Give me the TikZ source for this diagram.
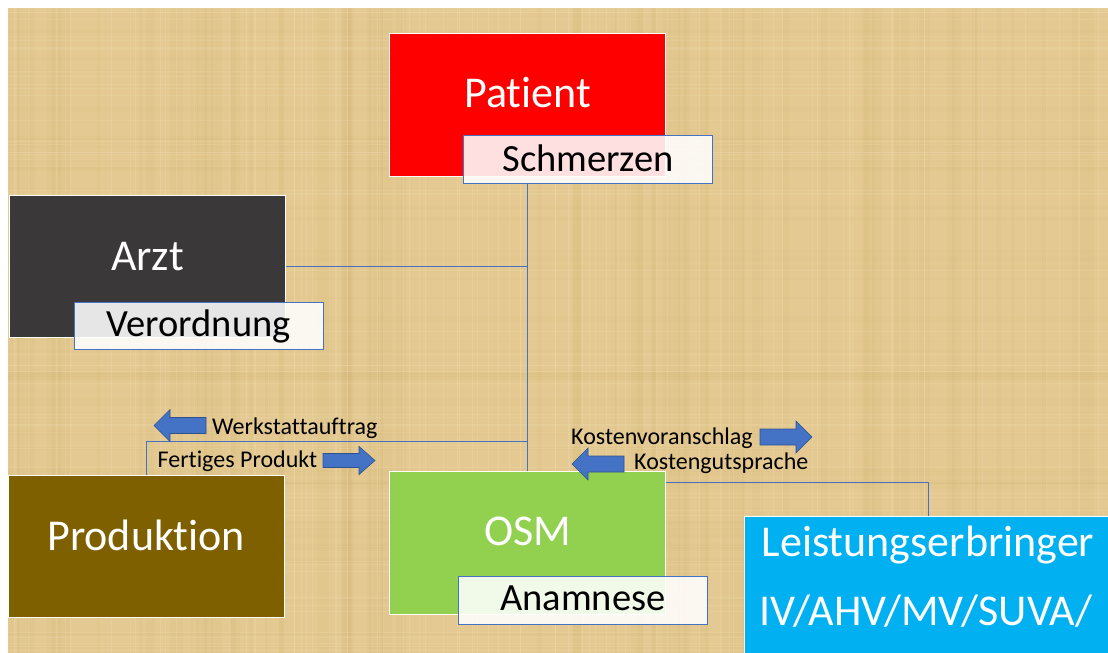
\documentclass[tikz,border=0pt]{standalone}
\usepackage{fontspec}
\setmainfont{Carlito}[Ligatures=NoCommon]
\usetikzlibrary{calc}
\definecolor{bg}{HTML}{E4CA92}
\definecolor{bgdark}{HTML}{C9A764}
\definecolor{bglight}{HTML}{F4E4BC}
\definecolor{linecol}{HTML}{4472C4}
\definecolor{arrowedge}{HTML}{2F528F}
\definecolor{patred}{HTML}{FF0000}
\definecolor{arztgray}{HTML}{3A3838}
\definecolor{prodbrown}{HTML}{7F6000}
\definecolor{osmgreen}{HTML}{92D050}
\definecolor{leistblue}{HTML}{00B0F0}
\tikzset{
  mainbox/.style={draw=white, line width=0.8pt, inner sep=0pt},
  subbox/.style={draw=linecol, line width=1pt, fill=white, fill opacity=0.88, text opacity=1, inner sep=0pt, minimum width=249pt, minimum height=47.5pt},
  titletext/.style={text=white, inner sep=0pt, anchor=base, font=\fontsize{44}{52}\selectfont},
  subtext/.style={text=black, inner sep=0pt, anchor=base, font=\fontsize{38.5}{45}\selectfont},
  lbltext/.style={text=black, inner sep=0pt, anchor=base west, font=\fontsize{24}{29}\selectfont},
  conn/.style={draw=linecol, line width=1pt},
  arrowfill/.style={fill=linecol, draw=arrowedge, line width=0.6pt},
  pics/barrow/.style={code={\path[arrowfill] (0,-8)--(36,-8)--(36,-16)--(52,0)--(36,16)--(36,8)--(0,8)--cycle;}}
}
\begin{document}
\begin{tikzpicture}[x=1pt,y=-1pt]
\useasboundingbox (0,0) rectangle (1108,653);
\fill[white] (0,0) rectangle (1108,653);
% papyrus background
\begin{scope}
\clip (8,8) rectangle (1108,653);
\fill[bg] (8,8) rectangle (1108,653);
\pgfmathsetseed{11}
\foreach \i in {1,...,70}{
  \pgfmathsetmacro\xx{8+1100*rnd}
  \pgfmathsetmacro\ww{2+12*rnd}
  \fill[bgdark, opacity=0.08] (\xx,8) rectangle ++(\ww,645);
}
\foreach \i in {1,...,50}{
  \pgfmathsetmacro\yy{8+645*rnd}
  \pgfmathsetmacro\hh{1+5*rnd}
  \fill[bgdark, opacity=0.06] (8,\yy) rectangle ++(1100,\hh);
}
\foreach \i in {1,...,90}{
  \pgfmathsetmacro\xx{8+1100*rnd}
  \fill[bglight, opacity=0.2] (\xx,8) rectangle ++(1,645);
}
\foreach \i in {1,...,60}{
  \pgfmathsetmacro\yy{8+645*rnd}
  \fill[bglight, opacity=0.18] (8,\yy) rectangle ++(1100,1);
}
\end{scope}

% main boxes
\node[mainbox, fill=patred, minimum width=276pt, minimum height=143pt] (pat) at (527.5,104.5) {};
\node[mainbox, fill=arztgray, minimum width=276pt, minimum height=142pt] (arzt) at (147.5,266.7) {};
\node[mainbox, fill=prodbrown, minimum width=276pt, minimum height=142pt] (prod) at (146.2,546.7) {};
\node[mainbox, fill=osmgreen, minimum width=276pt, minimum height=142.5pt] (osm) at (527.5,542.9) {};
\node[mainbox, fill=leistblue, minimum width=364pt, minimum height=137pt] (leist) at (926,584.5) {};

% connectors
\coordinate (j1) at (osm.north |- 0,441);
\draw[conn] (osm.north) -- (osm.north |- 0,183.3);
\draw[conn] (arzt.east) -- (arzt.east -| osm.north);
\draw[conn] (prod.north) |- (j1);
\draw[conn] ([yshift=-11pt]osm.north east) -| ([xshift=2pt]leist.north);

% sub boxes
\node[subbox] (schm) at (588,159.5) {};
\node[subbox] (vero) at (198.7,325.8) {};
\node[subbox] (anam) at (582.8,600.5) {};

% titles
\node[titletext] (tpat) at (527.5,107) {Patient};
\node[titletext] (tarzt) at (147.5,270.7) {Arzt};
\node[titletext] (tprod) at (146.2,550.7) {Produktion};
\node[titletext] (tosm) at (527.5,545) {OSM};
\node[titletext] (tleist1) at (928,556.7) {Leistungserbringer};
\node[titletext] (tleist2) at (926,625) {IV/AHV/MV/SUVA/};

\node[subtext] (tschm) at (588,171.7) {Schmerzen};
\node[subtext] (tvero) at (198.7,336.7) {Verordnung};
\node[subtext] (tanam) at (582.8,610.7) {Anamnese};

% labels
\node[lbltext] (lwerk) at (212,434.3) {Werkstattauftrag};
\node[lbltext] (lfert) at (157.5,467.7) {Fertiges Produkt};
\node[lbltext] (lkv) at (571,444.3) {Kostenvoranschlag};
\node[lbltext] (lkg) at (634,469.3) {Kostengutsprache};

% block arrows
\pic[xscale=-1] at (206,425.5) {barrow};
\pic[yscale=0.88] at (323,460.5) {barrow};
\pic at (760,437) {barrow};
\pic[xscale=-1] at (624,464) {barrow};
\end{tikzpicture}
\end{document}
